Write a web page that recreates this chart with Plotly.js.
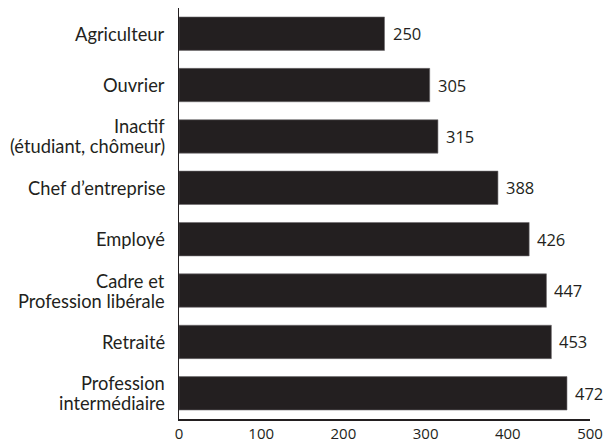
<!DOCTYPE html>
<html><head><meta charset="utf-8">
<script src="https://cdn.plot.ly/plotly-3.0.1.min.js"></script>
<style>html,body{margin:0;padding:0;background:#fff}#chart{width:607px;height:441px}</style>
</head><body><div id="chart"></div>
<script>
const categories = ["Agriculteur","Ouvrier","Inactif<br>(étudiant, chômeur)","Chef d’entreprise","Employé","Cadre et<br>Profession libérale","Retraité","Profession<br>intermédiaire"];
const values = [250,305,315,388,426,447,453,472];
const xTicks = [0,100,200,300,400,500];

const ink = '#231f20';
const lineH = 20;
const trace = {
  type:'bar', orientation:'h', x: values, y: categories,
  marker:{color: ink, line:{color:'#6d6a6b', width:0.6}},
  width:0.65, hoverinfo:'none'
};
const annotations = values.map((v,i)=>({
  x:v, y:categories[i], xref:'x', yref:'y', text:String(v), showarrow:false,
  xanchor:'left', xshift:6, font:{family:'Open Sans, sans-serif', size:16.5, color:ink}
}));
categories.forEach((c)=>{
  const lines = c.split('<br>');
  lines.forEach((ln,j)=>{
    annotations.push({
      x:0, y:c, xref:'paper', yref:'y', text:ln, showarrow:false,
      xanchor:'right', yanchor:'middle', xshift:-12,
      yshift:((lines.length-1)/2 - j)*lineH,
      font:{family:'Lato, sans-serif', size:18.3, color:ink}
    });
  });
});
const layout = {
  width:607, height:441,
  margin:{l:179, r:17, t:8, b:22},
  paper_bgcolor:'#fff', plot_bgcolor:'#fff',
  showlegend:false,
  xaxis:{range:[0,500], tickvals:xTicks, ticktext:xTicks.map(String), showgrid:false, zeroline:false,
    showline:true, linecolor:ink, linewidth:1.5, ticks:'', ticklen:0,
    tickfont:{family:'Open Sans, sans-serif', size:15, color:ink}, fixedrange:true},
  yaxis:{type:'category', range:[7.5,-0.5], showgrid:false, zeroline:false,
    showline:true, linecolor:ink, linewidth:1.5, ticks:'', showticklabels:false, fixedrange:true},
  annotations: annotations
};
Plotly.newPlot('chart',[trace],layout,{displayModeBar:false, staticPlot:true});
</script></body></html>
